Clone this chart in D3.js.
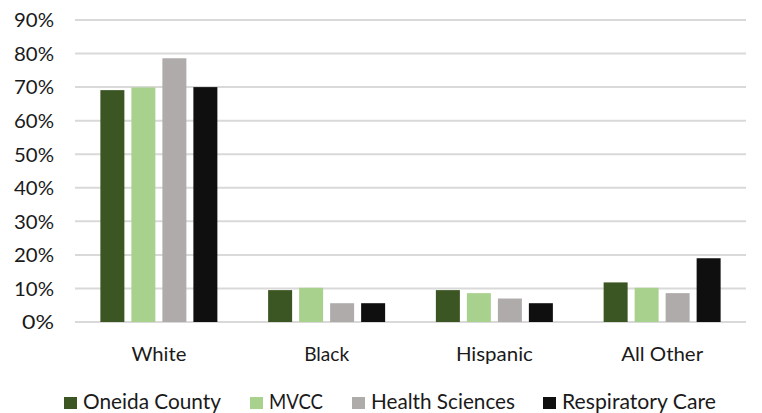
<!DOCTYPE html>
<html><head><meta charset="utf-8">
<script src="https://cdnjs.cloudflare.com/ajax/libs/d3/7.8.5/d3.min.js"></script>
<style>body{margin:0;background:#fff}svg{display:block}text{font-family:Lato,"Open Sans",sans-serif;fill:#1a1a1a}</style>
</head><body><svg id="c" width="762" height="413"></svg>
<script>
const categories = ["White", "Black", "Hispanic", "All Other"];
const seriesNames = ["Oneida County", "MVCC", "Health Sciences", "Respiratory Care"];
const oneida = [69.1, 9.5, 9.5, 11.8];
const mvcc = [69.9, 10.2, 8.6, 10.2];
const healthSciences = [78.6, 5.6, 7.0, 8.6];
const respiratory = [70.0, 5.6, 5.6, 19.0];
const tickValues = [0, 10, 20, 30, 40, 50, 60, 70, 80, 90];
const colors = ["#3b5523", "#a9d18e", "#afabab", "#0f0f0f"];

(function () {
const series = [oneida, mvcc, healthSciences, respiratory];
const svg = d3.select("#c");
const pLeft = 75, pRight = 746, pTop = 20, pBottom = 322;
const y = d3.scaleLinear().domain([0, 90]).range([pBottom, pTop]);
const x0 = d3.scaleBand().domain(categories).range([pLeft, pRight]).padding(0);
const x1 = d3.scaleBand().domain(seriesNames).range([0, 117]).paddingInner(0.226).paddingOuter(0);

svg.append("g").selectAll("line").data(tickValues).join("line")
  .attr("x1", pLeft).attr("x2", pRight)
  .attr("y1", d => y(d)).attr("y2", d => y(d))
  .attr("stroke", "#d9d9d9").attr("stroke-width", 2);

const yAxis = d3.axisLeft(y).tickValues(tickValues).tickFormat(d => d + "%").tickSize(0).tickPadding(0);
const ya = svg.append("g").attr("transform", `translate(54,0)`).call(yAxis);
ya.select(".domain").remove();
ya.selectAll("text").attr("font-size", 19).attr("font-family", "Lato, sans-serif").attr("fill", "#1a1a1a")
  .attr("dy", "0.36em").attr("textLength", 40).attr("lengthAdjust", "spacingAndGlyphs");
ya.selectAll("text").filter(d => d === 0).attr("textLength", 32);

const groups = svg.append("g").selectAll("g").data(categories).join("g")
  .attr("transform", d => `translate(${x0(d) + x0.bandwidth() / 2 - 58.5},0)`);
groups.selectAll("rect").data((c, i) => seriesNames.map((s, j) => ({s, j, v: series[j][i]}))).join("rect")
  .attr("x", d => x1(d.s)).attr("width", x1.bandwidth())
  .attr("y", d => y(d.v)).attr("height", d => y(0) - y(d.v))
  .attr("fill", d => colors[d.j]);

const catW = [55, 45, 77, 82];
const xAxis = d3.axisBottom(x0).tickSize(0).tickPadding(0);
const xa = svg.append("g").attr("transform", `translate(0,${pBottom})`).call(xAxis);
xa.select(".domain").remove();
xa.selectAll("text").attr("font-size", 19).attr("font-family", "Lato, sans-serif").attr("fill", "#1a1a1a")
  .attr("dy", null).attr("y", 39)
  .attr("textLength", (d, i) => catW[i]).attr("lengthAdjust", "spacingAndGlyphs");

const legX = [64, 250, 352, 543];
const legW = [138, 54, 144, 154];
const leg = svg.append("g").selectAll("g").data(seriesNames).join("g")
  .attr("transform", (d, i) => `translate(${legX[i]},409)`);
leg.append("rect").attr("x", 0).attr("y", -12).attr("width", 13).attr("height", 12).attr("fill", (d, i) => colors[i]);
leg.append("text").attr("x", 19).attr("y", 0).attr("font-size", 21)
  .attr("textLength", (d, i) => legW[i]).attr("lengthAdjust", "spacingAndGlyphs").text(d => d);
})();
</script></body></html>
